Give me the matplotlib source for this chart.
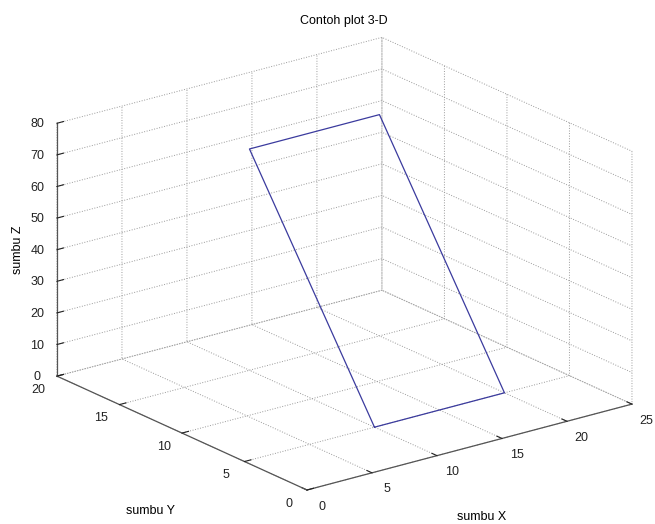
import matplotlib
matplotlib.use("Agg")
import matplotlib.pyplot as plt
import matplotlib.transforms as mtrans
from matplotlib.artist import Artist
import numpy as np
from mpl_toolkits.mplot3d import proj3d

# ---- data ----
x_vals = [10, 20, 20, 10, 10]
y_vals = [5, 5, 15, 15, 5]
z_vals = [0, 0, 70, 70, 0]
x_ticks = [0, 5, 10, 15, 20, 25]
y_ticks = [0, 5, 10, 15, 20]
z_ticks = [0, 10, 20, 30, 40, 50, 60, 70, 80]
title = "Contoh plot 3-D"
xlabel = "sumbu X"
ylabel = "sumbu Y"
zlabel = "sumbu Z"

W, H = 655, 524
plt.rcParams["font.family"] = ["Liberation Sans", "DejaVu Sans"]
plt.rcParams["font.size"] = 9
plt.rcParams["grid.linestyle"] = ":"
plt.rcParams["grid.color"] = "#9a9a9a"
plt.rcParams["grid.linewidth"] = 0.7

fig = plt.figure(figsize=(W / 100, H / 100), dpi=100)
S0 = 400
ax = fig.add_axes([(W - S0) / 2 / W, (H - S0) / 2 / H, S0 / W, S0 / H],
                  projection="3d", proj_type="ortho")
ax.view_init(elev=20.3, azim=-127.3)
ax.set_box_aspect((1, 1.01, 0.66))

ax.plot(x_vals, y_vals, z_vals, color="#3b3b9e", lw=0.9)

ax.set_xlim(x_ticks[0], x_ticks[-1])
ax.set_ylim(y_ticks[0], y_ticks[-1])
ax.set_zlim(z_ticks[0], z_ticks[-1])
ax.set_xticks(x_ticks)
ax.set_yticks(y_ticks)
ax.set_zticks(z_ticks)

for axis in (ax.xaxis, ax.yaxis, ax.zaxis):
    axis.set_pane_color((1, 1, 1, 0))
    axis.pane.set_edgecolor("none")
    axis.line.set_color("#555555")
    axis.line.set_linewidth(0.9)
    axis._axinfo["grid"].update(linestyle=":", color="#9a9a9a", linewidth=0.7)
    axis._axinfo["tick"]["inward_factor"] = 0.0
    axis._axinfo["tick"]["outward_factor"] = 0.25
    axis._axinfo["tick"]["color"] = "#555555"

ax.tick_params(labelsize=9, colors="#222222", pad=0)

# ---- fit the projected box to the layout ----
fig.canvas.draw()
corners = np.array([[0, 0, 0], [25, 0, 0], [0, 20, 0]], dtype=float)
def proj_pts():
    xs, ys, _ = proj3d.proj_transform(corners[:, 0], corners[:, 1], corners[:, 2], ax.get_proj())
    return ax.transData.transform(np.column_stack([xs, ys]))
p = proj_pts()
span0 = p[1, 0] - p[2, 0]
k = 575.0 / span0
bb = ax.get_position()
c0 = np.array([(bb.x0 + bb.width / 2) * W, (bb.y0 + bb.height / 2) * H])
target = np.array([307.0, H - 490.0])
c1 = target - (p[0] - c0) * k
S1 = S0 * k
ax.set_position([(c1[0] - S1 / 2) / W, (c1[1] - S1 / 2) / H, S1 / W, S1 / H])

# ---- small display offsets for the tick labels (MATLAB-like placement) ----
def shift_labels(axis, dx, dy):
    off = mtrans.ScaledTranslation(dx / 100, dy / 100, fig.dpi_scale_trans)
    for t in axis.get_major_ticks():
        lab = t.label1
        def st(tr, lab=lab, off=off):
            Artist.set_transform(lab, tr + off)
        lab.set_transform = st
        lab.set_transform(ax.transData)

shift_labels(ax.xaxis, 6, 2)
shift_labels(ax.yaxis, -7, 4)
shift_labels(ax.zaxis, 0, 4)

# ---- texts ----
fig.text(344 / W, 1 - 21 / H, title, ha="center", va="center", fontsize=9)
fig.text(482 / W, 1 - 517 / H, xlabel, ha="center", va="center", fontsize=9)
fig.text(151 / W, 1 - 511 / H, ylabel, ha="center", va="center", fontsize=9)
fig.text(18 / W, 1 - 250 / H, zlabel, ha="center", va="center", fontsize=9, rotation=90)

fig.savefig("out.png", dpi=100, facecolor="white")
